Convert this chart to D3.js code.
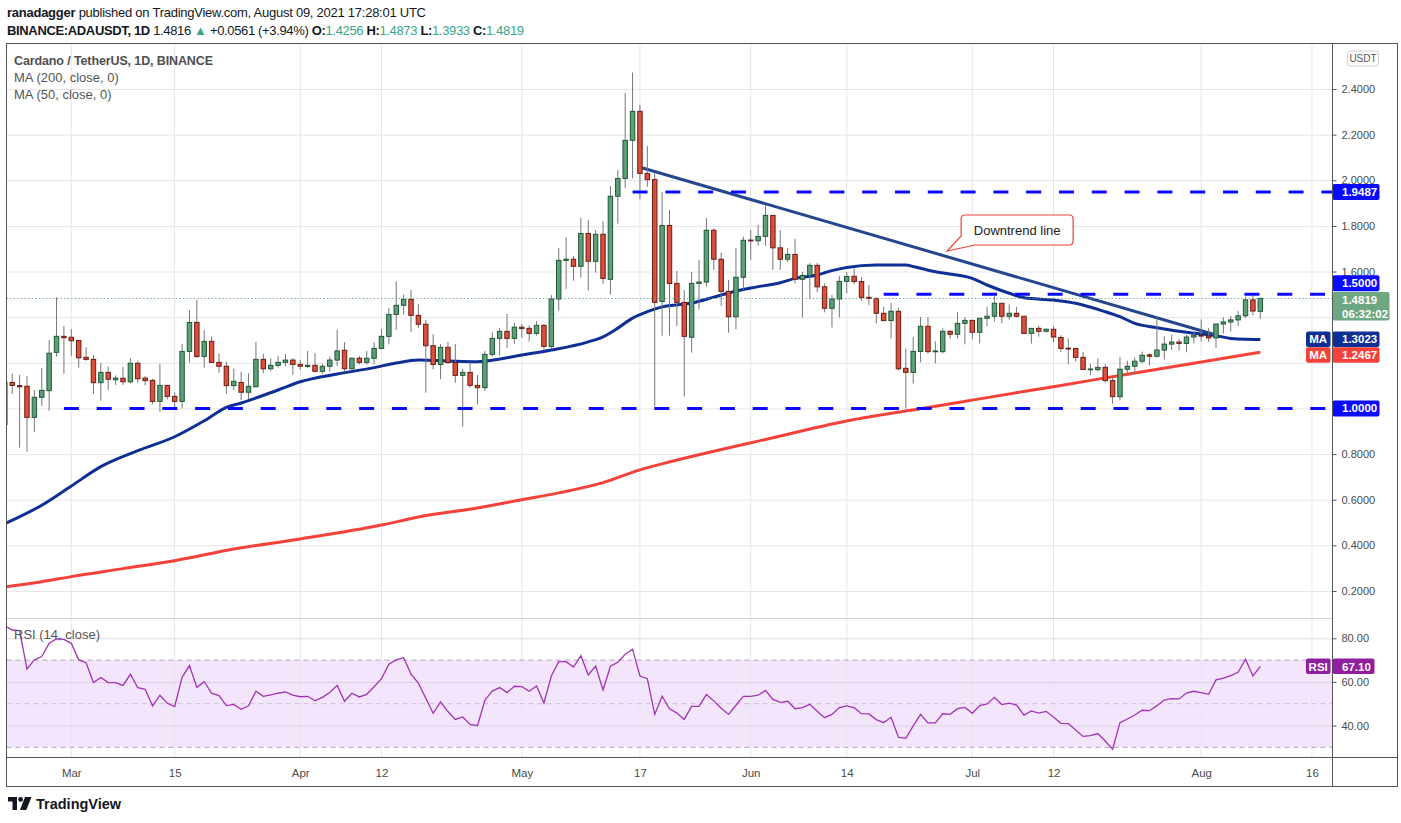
<!DOCTYPE html>
<html>
<head>
<meta charset="utf-8">
<script src="https://cdn.jsdelivr.net/npm/d3@7"></script>
<style>
  html, body { margin: 0; padding: 0; background: #fff; }
  svg { display: block; font-family: "Liberation Sans", Arial, sans-serif; }
</style>
</head>
<body>
<svg id="chart" width="1401" height="823"></svg>
<script>
// ADA/USDT daily candles, 2021-02-20 .. 2021-08-09
const firstDay = '2021-02-20'

const opens = [
  0.930, 1.114, 1.100, 1.097, 0.961, 1.049, 1.078, 1.246, 1.316,
  1.312, 1.298, 1.224, 1.215, 1.113, 1.158, 1.126, 1.132, 1.117, 1.198, 1.133, 1.123, 1.031, 1.101, 1.053, 1.031,
  1.250, 1.377, 1.228, 1.294, 1.202, 1.185, 1.100, 1.114, 1.071, 1.095, 1.215, 1.174, 1.189, 1.202, 1.212,
  1.193, 1.184, 1.189, 1.163, 1.185, 1.212, 1.255, 1.174, 1.220, 1.202, 1.220, 1.263, 1.316, 1.412, 1.452,
  1.478, 1.408, 1.369, 1.275, 1.193, 1.268, 1.201, 1.145, 1.158, 1.101, 1.091, 1.237, 1.307, 1.338, 1.307,
  1.356, 1.351, 1.329, 1.364, 1.272, 1.480, 1.649, 1.654, 1.623, 1.767, 1.645, 1.763, 1.566, 1.930, 2.008,
  2.175, 2.302, 2.030, 2.003, 1.469, 1.802, 1.548, 1.465, 1.312, 1.548, 1.554, 1.781, 1.654, 1.513, 1.402, 1.575,
  1.738, 1.735, 1.754, 1.846, 1.704, 1.654, 1.675, 1.566, 1.583, 1.627, 1.533, 1.439, 1.480, 1.557, 1.579,
  1.556, 1.487, 1.482, 1.417, 1.385, 1.426, 1.176, 1.158, 1.250, 1.360, 1.249, 1.249, 1.338, 1.325, 1.373,
  1.386, 1.334, 1.395, 1.404, 1.461, 1.404, 1.417, 1.404, 1.329, 1.351, 1.338, 1.347, 1.311, 1.264, 1.263,
  1.224, 1.170, 1.170, 1.180, 1.122, 1.052, 1.172, 1.185, 1.207, 1.235, 1.229, 1.256, 1.282, 1.291, 1.285, 1.313,
  1.321, 1.317, 1.309, 1.370, 1.379, 1.388, 1.406, 1.476, 1.4256
]
const highs = [
  1.130, 1.154, 1.147, 1.142, 1.081, 1.177, 1.300, 1.487, 1.361,
  1.347, 1.300, 1.268, 1.234, 1.199, 1.183, 1.145, 1.182, 1.221, 1.209, 1.142, 1.130, 1.195, 1.101, 1.071, 1.282,
  1.431, 1.475, 1.344, 1.315, 1.241, 1.205, 1.174, 1.161, 1.154, 1.291, 1.239, 1.220, 1.230, 1.239, 1.220,
  1.212, 1.252, 1.242, 1.195, 1.228, 1.344, 1.291, 1.224, 1.231, 1.252, 1.291, 1.347, 1.440, 1.557, 1.499,
  1.519, 1.457, 1.388, 1.326, 1.282, 1.291, 1.282, 1.173, 1.202, 1.147, 1.252, 1.334, 1.353, 1.414, 1.375,
  1.370, 1.364, 1.383, 1.370, 1.497, 1.703, 1.751, 1.668, 1.835, 1.826, 1.782, 1.820, 1.975, 2.045, 2.382,
  2.472, 2.330, 2.150, 2.030, 1.949, 1.870, 1.602, 1.519, 1.598, 1.651, 1.835, 1.789, 1.683, 1.563, 1.703, 1.753,
  1.782, 1.805, 1.892, 1.846, 1.782, 1.704, 1.743, 1.598, 1.637, 1.637, 1.548, 1.497, 1.580, 1.598, 1.614,
  1.576, 1.541, 1.487, 1.446, 1.462, 1.442, 1.263, 1.313, 1.401, 1.401, 1.294, 1.351, 1.342, 1.421, 1.401,
  1.386, 1.395, 1.445, 1.494, 1.461, 1.456, 1.445, 1.404, 1.351, 1.363, 1.351, 1.360, 1.321, 1.307, 1.263,
  1.248, 1.194, 1.219, 1.194, 1.136, 1.226, 1.209, 1.223, 1.249, 1.241, 1.402, 1.318, 1.323, 1.304, 1.323, 1.335,
  1.390, 1.352, 1.370, 1.400, 1.405, 1.427, 1.489, 1.500, 1.4873
]
const lows = [
  0.900, 1.063, 0.828, 0.811, 0.897, 1.011, 0.990, 1.227, 1.152,
  1.230, 1.179, 1.209, 1.063, 1.034, 1.081, 1.103, 1.103, 1.109, 1.113, 1.101, 1.019, 0.986, 1.040, 1.000, 1.000,
  1.201, 1.221, 1.179, 1.201, 1.157, 1.063, 1.081, 1.037, 1.040, 1.093, 1.154, 1.165, 1.179, 1.185, 1.148,
  1.169, 1.177, 1.158, 1.152, 1.161, 1.186, 1.161, 1.170, 1.192, 1.193, 1.193, 1.261, 1.281, 1.344, 1.412,
  1.334, 1.353, 1.069, 1.171, 1.128, 1.195, 1.113, 0.920, 1.091, 1.018, 1.077, 1.227, 1.231, 1.266, 1.283,
  1.310, 1.293, 1.319, 1.258, 1.262, 1.429, 1.524, 1.560, 1.573, 1.516, 1.595, 1.547, 1.499, 1.810, 1.965,
  2.008, 1.916, 1.972, 1.008, 1.319, 1.319, 1.361, 1.052, 1.244, 1.434, 1.534, 1.607, 1.449, 1.332, 1.347, 1.519,
  1.651, 1.713, 1.713, 1.607, 1.607, 1.642, 1.548, 1.398, 1.481, 1.509, 1.421, 1.355, 1.399, 1.505, 1.544,
  1.472, 1.453, 1.373, 1.383, 1.307, 1.166, 1.000, 1.109, 1.202, 1.240, 1.198, 1.241, 1.306, 1.307, 1.281,
  1.304, 1.285, 1.360, 1.380, 1.374, 1.389, 1.398, 1.325, 1.284, 1.315, 1.334, 1.290, 1.248, 1.195, 1.205,
  1.168, 1.146, 1.161, 1.113, 1.021, 1.035, 1.156, 1.150, 1.198, 1.188, 1.223, 1.214, 1.257, 1.254, 1.246, 1.285,
  1.293, 1.291, 1.264, 1.328, 1.337, 1.361, 1.397, 1.408, 1.3933
]
const closes = [
  1.115, 1.101, 1.095, 0.961, 1.049, 1.079, 1.242, 1.316, 1.310,
  1.297, 1.222, 1.215, 1.113, 1.158, 1.128, 1.133, 1.117, 1.198, 1.130, 1.122, 1.031, 1.101, 1.053, 1.031, 1.250,
  1.377, 1.228, 1.294, 1.202, 1.185, 1.100, 1.119, 1.071, 1.097, 1.215, 1.174, 1.189, 1.202, 1.212, 1.193,
  1.185, 1.189, 1.163, 1.185, 1.212, 1.252, 1.174, 1.220, 1.202, 1.220, 1.263, 1.316, 1.412, 1.452, 1.478,
  1.408, 1.369, 1.275, 1.193, 1.268, 1.201, 1.145, 1.158, 1.101, 1.091, 1.237, 1.307, 1.338, 1.307, 1.356,
  1.350, 1.329, 1.364, 1.272, 1.480, 1.649, 1.654, 1.623, 1.767, 1.645, 1.763, 1.570, 1.930, 2.008, 2.175,
  2.302, 2.030, 2.003, 1.465, 1.802, 1.548, 1.465, 1.316, 1.548, 1.554, 1.781, 1.654, 1.513, 1.402, 1.575, 1.737,
  1.735, 1.754, 1.846, 1.704, 1.654, 1.675, 1.566, 1.583, 1.627, 1.533, 1.439, 1.480, 1.557, 1.578, 1.556,
  1.487, 1.482, 1.417, 1.385, 1.426, 1.174, 1.158, 1.250, 1.360, 1.249, 1.252, 1.338, 1.325, 1.373, 1.386,
  1.334, 1.395, 1.404, 1.461, 1.404, 1.417, 1.404, 1.329, 1.351, 1.338, 1.347, 1.313, 1.263, 1.262, 1.224,
  1.171, 1.173, 1.180, 1.122, 1.052, 1.172, 1.185, 1.207, 1.233, 1.229, 1.256, 1.282, 1.291, 1.285, 1.313, 1.321,
  1.317, 1.309, 1.370, 1.379, 1.388, 1.406, 1.476, 1.427, 1.4819
]

// RSI (14, close), one value per candle
const rsiValues = [
  85.7, 83.8, 83.5, 65.9, 70.1, 71.6, 77.7, 79.7, 79.5,
  77.7, 70.1, 68.8, 59.7, 62.0, 59.7, 59.7, 58.4, 63.5, 57.4, 56.6, 49.0, 53.9, 50.2, 48.7, 62.1,
  67.5, 57.5, 60.1, 54.8, 53.7, 49.1, 49.7, 47.4, 49.0, 55.7, 53.4, 54.0, 54.8, 55.4, 53.9,
  53.2, 53.4, 51.3, 52.9, 55.1, 58.4, 51.1, 54.8, 53.1, 54.3, 57.8, 61.5, 68.1, 70.1, 71.1,
  63.6, 59.4, 52.5, 45.6, 50.8, 46.4, 42.8, 43.9, 40.5, 39.9, 51.6, 55.8, 57.4, 55.1, 58.0,
  57.8, 55.7, 58.1, 50.3, 62.7, 69.3, 69.3, 66.8, 72.0, 63.2, 67.3, 56.3, 67.2, 69.0, 72.7,
  75.0, 62.7, 61.5, 45.1, 53.4, 47.7, 45.7, 42.8, 48.8, 48.8, 54.2, 51.3, 47.9, 45.1, 49.3, 53.4,
  53.4, 53.9, 56.1, 52.0, 50.6, 51.1, 47.7, 48.2, 49.7, 46.5, 43.6, 45.1, 48.2, 49.0, 48.2,
  45.4, 45.3, 42.7, 41.3, 43.8, 34.6, 34.1, 39.8, 45.1, 41.2, 41.2, 45.4, 45.1, 47.7, 48.3,
  45.6, 49.1, 49.9, 52.9, 49.6, 50.3, 49.4, 44.8, 46.7, 45.7, 46.5, 43.9, 41.0, 40.9, 37.9,
  35.0, 35.4, 36.3, 32.9, 29.1, 41.3, 43.0, 44.8, 47.0, 46.8, 49.1, 51.7, 52.3, 52.2, 54.9, 55.7,
  55.1, 54.3, 60.9, 61.7, 62.9, 64.4, 70.4, 62.7, 67.1
]

// moving averages at sample dates
const ma50Points = [
  ['2021-02-20', 0.495], ['2021-02-25', 0.576], ['2021-03-01', 0.660], ['2021-03-05', 0.745],
  ['2021-03-10', 0.815], ['2021-03-15', 0.876], ['2021-03-19', 0.946], ['2021-03-22', 1.005],
  ['2021-03-24', 1.024], ['2021-03-29', 1.081], ['2021-04-01', 1.117], ['2021-04-06', 1.151],
  ['2021-04-11', 1.179], ['2021-04-14', 1.199], ['2021-04-17', 1.212], ['2021-04-21', 1.208],
  ['2021-04-25', 1.205], ['2021-05-01', 1.234], ['2021-05-05', 1.256], ['2021-05-10', 1.292],
  ['2021-05-12', 1.314], ['2021-05-14', 1.352], ['2021-05-16', 1.396], ['2021-05-18', 1.424],
  ['2021-05-20', 1.445], ['2021-05-24', 1.462], ['2021-05-27', 1.488], ['2021-05-29', 1.506],
  ['2021-06-01', 1.528], ['2021-06-05', 1.551], ['2021-06-07', 1.570], ['2021-06-10', 1.585],
  ['2021-06-12', 1.604], ['2021-06-14', 1.618], ['2021-06-18', 1.629], ['2021-06-22', 1.629],
  ['2021-06-23', 1.622], ['2021-06-26', 1.599], ['2021-07-01', 1.570], ['2021-07-03', 1.541],
  ['2021-07-06', 1.505], ['2021-07-08', 1.485], ['2021-07-12', 1.475], ['2021-07-15', 1.461],
  ['2021-07-19', 1.424], ['2021-07-21', 1.402], ['2021-07-23', 1.373], ['2021-07-26', 1.354],
  ['2021-07-30', 1.334], ['2021-08-03', 1.319], ['2021-08-05', 1.307], ['2021-08-07', 1.303],
  ['2021-08-09', 1.3023]
]
const ma200Points = [
  ['2021-02-20', 0.218], ['2021-02-25', 0.241], ['2021-03-01', 0.263], ['2021-03-08', 0.298],
  ['2021-03-15', 0.333], ['2021-03-23', 0.384], ['2021-04-01', 0.428], ['2021-04-12', 0.489],
  ['2021-04-17', 0.524], ['2021-04-25', 0.564], ['2021-05-01', 0.600], ['2021-05-06', 0.630],
  ['2021-05-12', 0.675], ['2021-05-17', 0.731], ['2021-05-20', 0.757], ['2021-06-03', 0.864],
  ['2021-06-14', 0.945], ['2021-06-25', 1.004], ['2021-07-02', 1.042], ['2021-07-13', 1.101],
  ['2021-07-22', 1.150], ['2021-07-31', 1.198], ['2021-08-09', 1.2467]
]

// drawn lines: horizontal rays (start date, level) and the downtrend line
const rays = [['2021-02-28', 1.0], ['2021-05-16', 1.9487], ['2021-06-19', 1.5]]
const trendPoints = [['2021-05-17', 2.057], ['2021-08-03', 1.322]]

// axis ticks
const priceTicks = [0.2, 0.4, 0.6, 0.8, 1.0, 1.2, 1.4, 1.6, 1.8, 2.0, 2.2, 2.4]
const rsiTicks = [40, 60, 80]
const timeTicks = [
  ['2021-03-01', 'Mar'], ['2021-03-15', '15'], ['2021-04-01', 'Apr'], ['2021-04-12', '12'],
  ['2021-05-01', 'May'], ['2021-05-17', '17'], ['2021-06-01', 'Jun'], ['2021-06-14', '14'],
  ['2021-07-01', 'Jul'], ['2021-07-12', '12'], ['2021-08-01', 'Aug'], ['2021-08-16', '16']
]

const svg = d3.select('#chart')
const parse = d3.utcParse('%Y-%m-%d')
const start = parse(firstDay)
const last = closes.length - 1
const candles = closes.map((c, i) => ({
  date: d3.utcDay.offset(start, i), o: opens[i], h: highs[i], l: lows[i], c: c
}))

const plot = { left: 6.5, right: 1332.5, top: 43.5, priceBottom: 617.5, rsiTop: 619.5, rsiBottom: 757.5, bottom: 786.5, outer: 1397.5 }

const x = d3.scaleUtc()
  .domain([parse('2021-03-01'), parse('2021-08-09')])
  .range([71.3, 1260.3])
const y = d3.scaleLinear().domain([0.2, 2.4]).range([591, 89])
const yRsi = d3.scaleLinear().domain([30, 80]).range([747.3, 638.3])
const dayW = x(d3.utcDay.offset(start, 1)) - x(start)

const UP = '#5f9f78', UP_EDGE = '#1d5934'
const DOWN = '#dc4f3b', DOWN_EDGE = '#6e1b12'
const RAY = '#0a0aff'

const defs = svg.append('defs')
defs.append('clipPath').attr('id', 'clipPrice').append('rect')
  .attr('x', plot.left).attr('y', plot.top)
  .attr('width', plot.right - plot.left).attr('height', plot.priceBottom - plot.top)
defs.append('clipPath').attr('id', 'clipRsi').append('rect')
  .attr('x', plot.left).attr('y', plot.rsiTop)
  .attr('width', plot.right - plot.left).attr('height', plot.rsiBottom - plot.rsiTop)

svg.append('rect').attr('width', 1401).attr('height', 823).attr('fill', '#fff')

// ---------- header ----------
const head1 = svg.append('text').attr('x', 7).attr('y', 17)
  .attr('font-size', 13).attr('fill', '#131722').attr('textLength', 419)
head1.append('tspan').attr('font-weight', 'bold').text('ranadagger')
head1.append('tspan').text(' published on TradingView.com, August 09, 2021 17:28:01 UTC')

const head2 = svg.append('text').attr('x', 7).attr('y', 35)
  .attr('font-size', 13).attr('fill', '#131722').attr('textLength', 517)
head2.append('tspan').attr('font-weight', 'bold').text('BINANCE:ADAUSDT, 1D')
head2.append('tspan').text(' 1.4816 ')
head2.append('tspan').attr('fill', '#3aa58a').text('▲')
head2.append('tspan').text(' +0.0561 (+3.94%) ')
;[['O', opens[last]], ['H', highs[last]], ['L', lows[last]], ['C', closes[last]]].forEach(([k, v]) => {
  head2.append('tspan').attr('font-weight', 'bold').text(k + ':')
  head2.append('tspan').attr('fill', '#3aa58a').text(v.toFixed(4) + ' ')
})

// ---------- RSI band ----------
svg.append('rect')
  .attr('x', plot.left).attr('width', plot.right - plot.left)
  .attr('y', yRsi(70)).attr('height', yRsi(30) - yRsi(70))
  .attr('fill', '#f3e6fc')

// ---------- grid ----------
const tickDates = timeTicks.map(d => parse(d[0]))
svg.append('g').attr('class', 'vgrid')
  .selectAll('line').data(tickDates).join('line')
  .attr('x1', d => x(d)).attr('x2', d => x(d))
  .attr('y1', plot.top).attr('y2', plot.rsiBottom)
  .attr('stroke', '#e6e6e6')

svg.append('g').attr('transform', `translate(${plot.right},0)`)
  .call(d3.axisLeft(y).tickValues(priceTicks).tickSize(plot.right - plot.left).tickFormat(''))
  .call(g => g.select('.domain').remove())
  .call(g => g.selectAll('line').attr('stroke', '#e6e6e6'))

svg.append('g').attr('transform', `translate(${plot.right},0)`)
  .call(d3.axisLeft(yRsi).tickValues(rsiTicks).tickSize(plot.right - plot.left).tickFormat(''))
  .call(g => g.select('.domain').remove())
  .call(g => g.selectAll('line').attr('stroke', '#c9c0d0').attr('stroke-opacity', 0.55))

svg.append('g').selectAll('line').data([70, 50, 30]).join('line')
  .attr('x1', plot.left).attr('x2', plot.right)
  .attr('y1', d => yRsi(d)).attr('y2', d => yRsi(d))
  .attr('stroke', d => d === 50 ? '#cbbfd3' : '#b3a4bf')
  .attr('stroke-dasharray', '5,4')

// ---------- price pane ----------
const pricePane = svg.append('g').attr('clip-path', 'url(#clipPrice)')

const maLine = d3.line().x(d => x(parse(d[0]))).y(d => y(d[1])).curve(d3.curveMonotoneX)
pricePane.append('path').datum(ma200Points).attr('d', maLine)
  .attr('fill', 'none').attr('stroke', '#f4423a').attr('stroke-width', 3)
pricePane.append('path').datum(ma50Points).attr('d', maLine)
  .attr('fill', 'none').attr('stroke', '#0e2f96').attr('stroke-width', 3)
pricePane.append('line')
  .attr('x1', x(parse(trendPoints[0][0]))).attr('y1', y(trendPoints[0][1]))
  .attr('x2', x(parse(trendPoints[1][0]))).attr('y2', y(trendPoints[1][1]))
  .attr('stroke', '#24468e').attr('stroke-width', 3).attr('stroke-linecap', 'round')

const cg = pricePane.append('g').selectAll('g').data(candles).join('g')
cg.append('line')
  .attr('x1', d => x(d.date)).attr('x2', d => x(d.date))
  .attr('y1', d => y(d.h)).attr('y2', d => y(d.l))
  .attr('stroke', '#777').attr('stroke-width', 1)
cg.append('rect')
  .attr('x', d => x(d.date) - dayW * 0.3)
  .attr('width', dayW * 0.6)
  .attr('y', d => y(Math.max(d.o, d.c)))
  .attr('height', d => Math.max(0.8, Math.abs(y(d.o) - y(d.c))))
  .attr('fill', d => d.c >= d.o ? UP : DOWN)
  .attr('stroke', d => d.c >= d.o ? UP_EDGE : DOWN_EDGE)
  .attr('stroke-width', 1)

pricePane.append('g').selectAll('line').data(rays).join('line')
  .attr('x1', d => x(parse(d[0]))).attr('x2', plot.right)
  .attr('y1', d => y(d[1])).attr('y2', d => y(d[1]))
  .attr('stroke', RAY).attr('stroke-width', 3).attr('stroke-dasharray', '15,17.8')

pricePane.append('line')
  .attr('x1', plot.left).attr('x2', plot.right)
  .attr('y1', y(closes[last])).attr('y2', y(closes[last]))
  .attr('stroke', UP).attr('stroke-dasharray', '1.2,2.4')

// callout "Downtrend line"
const anchor = [x(parse('2021-06-28')) - 3, y(1.69)]
const bx = anchor[0] + 14, by = anchor[1] - 36, bw = 112, bh = 30
const callout = svg.append('g')
callout.append('path')
  .attr('d', `M${bx + 4},${by} H${bx + bw - 4} Q${bx + bw},${by} ${bx + bw},${by + 4} V${by + bh - 4} Q${bx + bw},${by + bh} ${bx + bw - 4},${by + bh}` +
    ` H${bx + 14} L${anchor[0]},${anchor[1]} L${bx},${by + bh - 9} V${by + 4} Q${bx},${by} ${bx + 4},${by} Z`)
  .attr('fill', '#fff').attr('stroke', '#e8443a').attr('stroke-width', 1.2)
callout.append('text').attr('x', bx + bw / 2).attr('y', by + bh / 2 + 4.5)
  .attr('text-anchor', 'middle').attr('font-size', 13).attr('fill', '#222')
  .text('Downtrend line')

// ---------- RSI pane ----------
const rsiPane = svg.append('g').attr('clip-path', 'url(#clipRsi)')
rsiPane.append('path')
  .datum(rsiValues.map((v, i) => [candles[i].date, v]))
  .attr('d', d3.line().x(d => x(d[0])).y(d => yRsi(d[1])))
  .attr('fill', 'none').attr('stroke', '#a034b5').attr('stroke-width', 1.3)

// ---------- legends ----------
svg.append('text').attr('x', 14).attr('y', 64.5).attr('font-size', 12.5)
  .attr('font-weight', 'bold').attr('fill', '#4f4f4f').attr('textLength', 199)
  .text('Cardano / TetherUS, 1D, BINANCE')
svg.append('text').attr('x', 14).attr('y', 81.5).attr('font-size', 13).attr('fill', '#555')
  .text('MA (200, close, 0)')
svg.append('text').attr('x', 14).attr('y', 98.5).attr('font-size', 13).attr('fill', '#555')
  .text('MA (50, close, 0)')
svg.append('text').attr('x', 14).attr('y', 638.5).attr('font-size', 13).attr('fill', '#555')
  .text('RSI (14, close)')

// ---------- value tags on the right scale (computed first, so covered labels can be skipped) ----------
const fmt4 = d3.format('.4f')
const ma50Last = ma50Points[ma50Points.length - 1][1]
const ma200Last = ma200Points[ma200Points.length - 1][1]
const rsiLast = rsiValues[rsiValues.length - 1]
const tags = [
  { top: y(rays[1][1]) - 8, h: 16, fill: RAY, lines: [fmt4(rays[1][1])] },
  { top: y(rays[0][1]) - 8, h: 16, fill: RAY, lines: [fmt4(rays[0][1])] },
  { top: y(rays[2][1]) - 19, h: 16, fill: RAY, lines: [fmt4(rays[2][1])] },
  { top: y(closes[last]) - 6.5, h: 28.5, fill: '#6ea882', lines: [fmt4(closes[last]), '06:32:02'], w: 57 },
  { top: y(ma50Last) - 8, h: 15.5, fill: '#0e2f96', lines: [fmt4(ma50Last)], prefix: 'MA' },
  { top: y(ma200Last) - 5, h: 15.5, fill: '#f4423a', lines: [fmt4(ma200Last)], prefix: 'MA' },
  { top: yRsi(rsiLast) - 7.8, h: 15.5, fill: '#911e9e', lines: [rsiLast.toFixed(2)], w: 42, prefix: 'RSI' }
]
const covered = py => tags.some(t => py > t.top - 2 && py < t.top + t.h + 2)

// ---------- axes ----------
const styleAxis = g => {
  g.select('.domain').remove()
  g.selectAll('line').attr('stroke', '#555')
  g.selectAll('text').attr('fill', '#4a4a4a').attr('font-size', 11)
    .attr('font-family', '"Liberation Sans", Arial, sans-serif')
}
svg.append('g').attr('transform', `translate(${plot.right},0)`)
  .call(d3.axisRight(y).tickValues(priceTicks.filter(v => !covered(y(v))))
    .tickSize(4).tickPadding(5).tickFormat(d3.format('.4f')))
  .call(styleAxis)
svg.append('g').attr('transform', `translate(${plot.right},0)`)
  .call(d3.axisRight(yRsi).tickValues(rsiTicks).tickSize(4).tickPadding(5).tickFormat(d3.format('.2f')))
  .call(styleAxis)
svg.append('g').attr('transform', `translate(0,${plot.rsiBottom})`)
  .call(d3.axisBottom(x).tickValues(tickDates).tickSize(0).tickPadding(11)
    .tickFormat((d, i) => timeTicks[i][1]))
  .call(styleAxis)
  .call(g => g.selectAll('text').attr('font-size', 11.5))

// USDT badge
svg.append('rect').attr('x', 1347.5).attr('y', 51).attr('width', 31).attr('height', 15)
  .attr('rx', 3).attr('fill', '#fff').attr('stroke', '#cfcfcf')
svg.append('text').attr('x', 1363).attr('y', 62).attr('text-anchor', 'middle')
  .attr('font-size', 10).attr('fill', '#555').text('USDT')

tags.forEach(t => {
  svg.append('rect').attr('x', plot.right).attr('y', t.top).attr('width', t.w || 47).attr('height', t.h)
    .attr('rx', 2).attr('fill', t.fill)
  t.lines.forEach((s, i) => {
    svg.append('text').attr('x', plot.right + 9.5).attr('y', t.top + 12 + i * 14)
      .attr('font-size', 11.5).attr('font-weight', 'bold').attr('fill', '#fff').text(s)
  })
  if (t.prefix) {
    svg.append('rect').attr('x', 1306).attr('y', t.top).attr('width', 24.5).attr('height', t.h)
      .attr('rx', 2).attr('fill', t.fill)
    svg.append('text').attr('x', 1318.2).attr('y', t.top + 12).attr('text-anchor', 'middle')
      .attr('font-size', 11.5).attr('font-weight', 'bold').attr('fill', '#fff').text(t.prefix)
  }
})

// ---------- frame ----------
svg.append('line').attr('x1', plot.left).attr('x2', plot.right)
  .attr('y1', plot.priceBottom + 1).attr('y2', plot.priceBottom + 1).attr('stroke', '#cfcfcf')
svg.append('line').attr('x1', plot.left).attr('x2', plot.outer)
  .attr('y1', plot.rsiBottom).attr('y2', plot.rsiBottom).attr('stroke', '#555')
svg.append('line').attr('x1', plot.right).attr('x2', plot.right)
  .attr('y1', plot.top).attr('y2', plot.bottom).attr('stroke', '#555')
svg.append('rect').attr('x', plot.left).attr('y', plot.top)
  .attr('width', plot.outer - plot.left).attr('height', plot.bottom - plot.top)
  .attr('fill', 'none').attr('stroke', '#555')

// ---------- TradingView logo ----------
const logo = svg.append('g').attr('fill', '#131722')
logo.append('path').attr('d', 'M8,797 h9 v13 h-4.5 v-8.5 h-4.5 z')
logo.append('circle').attr('cx', 20.6).attr('cy', 799.4).attr('r', 2.4)
logo.append('path').attr('d', 'M25,797 h6.5 l-5.2,13 h-6.3 z')
logo.append('text').attr('x', 36).attr('y', 809).attr('font-size', 14.5)
  .attr('font-weight', 'bold').text('TradingView')
</script>
</body>
</html>
